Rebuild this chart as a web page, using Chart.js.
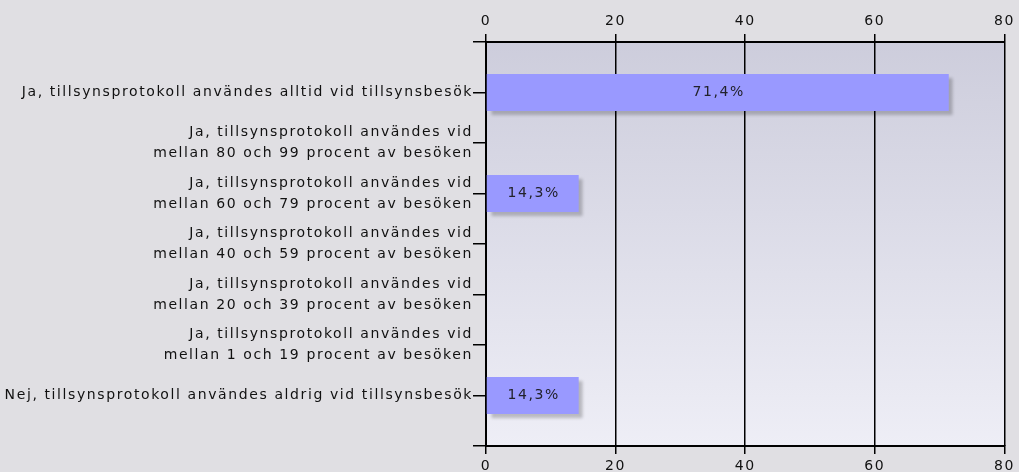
<!DOCTYPE html>
<html>
<head>
<meta charset="utf-8">
<script src="https://cdn.jsdelivr.net/npm/chart.js@4/dist/chart.umd.min.js"></script>
<style>
  html, body { margin: 0; padding: 0; background: #e0dfe3; }
  #wrap { width: 1019px; height: 472px; }
</style>
</head>
<body>
<div id="wrap"><canvas id="chart"></canvas></div>
<script>
// answer categories (multi-line ones as arrays)
const categories = [
    'Ja, tillsynsprotokoll användes alltid vid tillsynsbesök',
    ['Ja, tillsynsprotokoll användes vid', 'mellan 80 och 99 procent av besöken'],
    ['Ja, tillsynsprotokoll användes vid', 'mellan 60 och 79 procent av besöken'],
    ['Ja, tillsynsprotokoll användes vid', 'mellan 40 och 59 procent av besöken'],
    ['Ja, tillsynsprotokoll användes vid', 'mellan 20 och 39 procent av besöken'],
    ['Ja, tillsynsprotokoll användes vid', 'mellan 1 och 19 procent av besöken'],
    'Nej, tillsynsprotokoll användes aldrig vid tillsynsbesök'
];
const percentages = [71.4, 0, 14.3, 0, 0, 0, 14.3];
const xTicks = [0, 20, 40, 60, 80];

const fontFamily = '"DejaVu Sans", Verdana, sans-serif';
const textColor = '#111';

// empty slots above and below, like the original
const labels = [''].concat(categories, ['']);
const values = [null].concat(percentages, [null]);

// the original text is spaced out a little
const spacing = {
    id: 'spacing',
    beforeLayout(chart) { chart.ctx.letterSpacing = '1.6px'; },
    beforeDraw(chart) { chart.ctx.letterSpacing = '1.6px'; }
};

const background = {
    id: 'background',
    beforeDraw(chart) {
        const ctx = chart.ctx;
        const a = chart.chartArea;
        ctx.save();
        ctx.fillStyle = '#e0dfe3';
        ctx.fillRect(0, 0, chart.width, chart.height);
        const g = ctx.createLinearGradient(0, a.top, 0, a.bottom);
        g.addColorStop(0, '#cdcddc');
        g.addColorStop(1, '#eeeef6');
        ctx.fillStyle = g;
        ctx.fillRect(a.left, a.top, a.right - a.left, a.bottom - a.top);
        ctx.restore();
    }
};

const barShadow = {
    id: 'barShadow',
    beforeDatasetDraw(chart) {
        const ctx = chart.ctx;
        ctx.save();
        ctx.shadowColor = 'rgba(0, 0, 0, 0.22)';
        ctx.shadowBlur = 3;
        ctx.shadowOffsetX = 4;
        ctx.shadowOffsetY = 4;
    },
    afterDatasetDraw(chart) {
        chart.ctx.restore();
    }
};

const barLabels = {
    id: 'barLabels',
    afterDatasetsDraw(chart) {
        const ctx = chart.ctx;
        const meta = chart.getDatasetMeta(0);
        ctx.save();
        ctx.font = '14px ' + fontFamily;
        ctx.fillStyle = '#22222b';
        ctx.textAlign = 'center';
        ctx.textBaseline = 'middle';
        meta.data.forEach((bar, i) => {
            const v = values[i];
            if (!v) return;
            const cx = (bar.x + bar.base) / 2 + 1;
            ctx.fillText(v.toFixed(1).replace('.', ',') + '%', cx, bar.y);
        });
        ctx.restore();
    }
};

const xAxis = (position, onArea, height) => ({
    type: 'linear',
    position: position,
    min: xTicks[0],
    max: xTicks[xTicks.length - 1],
    ticks: {
        stepSize: 20,
        color: textColor,
        font: { family: fontFamily, size: 14 },
        padding: 4
    },
    grid: {
        color: '#000',
        lineWidth: 1.5,
        tickLength: 8,
        drawOnChartArea: onArea
    },
    border: { color: '#000', width: 2 },
    afterFit(scale) { scale.height = height; }
});

new Chart(document.getElementById('chart'), {
    type: 'bar',
    data: {
        labels: labels,
        datasets: [{
            data: values,
            backgroundColor: '#9999ff',
            borderWidth: 0,
            barPercentage: 0.73,
            categoryPercentage: 1,
            xAxisID: 'x',
            yAxisID: 'y'
        }]
    },
    options: {
        indexAxis: 'y',
        responsive: true,
        maintainAspectRatio: false,
        animation: false,
        layout: { padding: { right: 14 } },
        plugins: {
            legend: { display: false },
            tooltip: { enabled: false }
        },
        scales: {
            x: xAxis('top', true, 42),
            x2: xAxis('bottom', false, 26),
            y: {
                type: 'category',
                offset: false,
                ticks: {
                    autoSkip: false,
                    color: textColor,
                    font: { family: fontFamily, size: 14, lineHeight: 1.5 },
                    padding: 0
                },
                grid: {
                    offset: false,
                    color: '#000',
                    lineWidth: 1.5,
                    tickLength: 13,
                    drawOnChartArea: false
                },
                border: { color: '#000', width: 2 },
                afterFit(scale) { scale.width = 486; }
            }
        }
    },
    plugins: [spacing, background, barShadow, barLabels]
});
</script>
</body>
</html>
